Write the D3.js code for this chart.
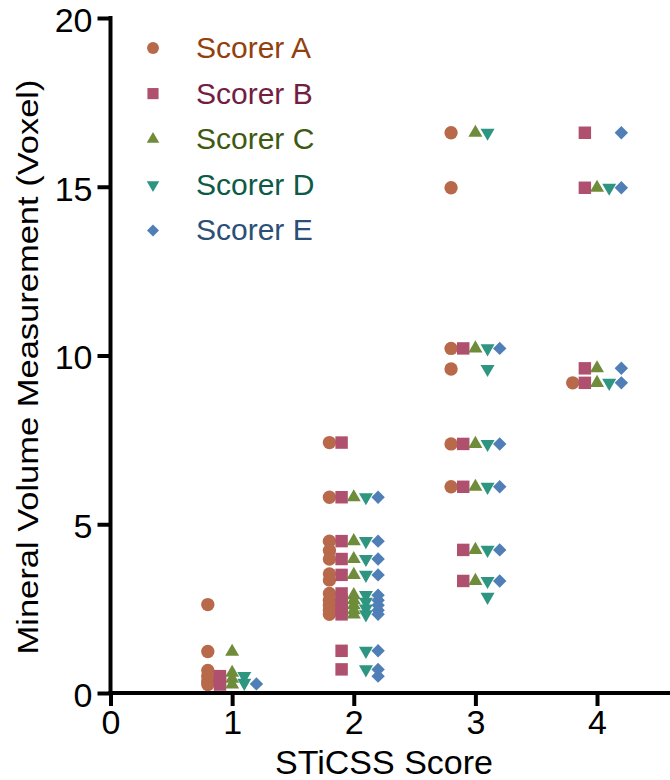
<!DOCTYPE html>
<html>
<head>
<meta charset="utf-8">
<script src="https://cdn.jsdelivr.net/npm/d3@7"></script>
<style>
  body { margin: 0; background: #fff; }
  svg text { font-family: "Liberation Sans", Arial, sans-serif; }
</style>
</head>
<body>
<svg id="chart" width="670" height="780"></svg>
<script>
// STiCSS score groups on the x axis
var scores = [1, 2, 3, 4];
var scorerNames = ["Scorer A", "Scorer B", "Scorer C", "Scorer D", "Scorer E"];

// values per scorer, one list per score (1..4)
var scorerA = [[2.62, 1.23, 0.67, 0.5, 0.35, 0.25],
               [7.42, 5.8, 4.5, 4.22, 3.97, 3.53, 3.35, 2.95, 2.75, 2.6, 2.45, 2.33],
               [16.6, 14.97, 10.21, 9.6, 7.38, 6.11],
               [9.19]];
var scorerB = [[0.5, 0.35, 0.25],
               [7.42, 5.8, 4.5, 3.97, 3.5, 2.95, 2.75, 2.6, 2.45, 2.33, 1.25, 0.7],
               [10.21, 7.38, 6.11, 4.24, 3.32],
               [16.6, 14.97, 9.62, 9.19]];
var scorerC = [[1.22, 0.6, 0.42, 0.25],
               [5.8, 4.5, 3.97, 3.5, 2.9, 2.75, 2.6, 2.45, 2.33],
               [16.6, 10.21, 7.38, 6.11, 4.24, 3.32],
               [14.97, 9.62, 9.19]];
var scorerD = [[0.5, 0.3],
               [5.8, 4.5, 3.97, 3.5, 2.9, 2.7, 2.5, 2.33, 1.25, 0.7],
               [16.6, 10.21, 9.6, 7.38, 6.11, 4.24, 3.32, 2.85],
               [14.97, 9.19]];
var scorerE = [[0.27],
               [5.8, 4.5, 3.97, 3.5, 2.9, 2.75, 2.6, 2.45, 2.33, 1.25, 0.7, 0.5],
               [10.21, 7.38, 6.11, 4.24, 3.32],
               [16.6, 14.97, 9.62, 9.19]];

var yTicks = [0, 5, 10, 15, 20];
var xTicks = [0, 1, 2, 3, 4];

var allScorers = [scorerA, scorerB, scorerC, scorerD, scorerE];
var markColors = ["#b8694a", "#b0506f", "#6f8c3a", "#2e9580", "#4f7fb6"];
var textColors = ["#93400f", "#731d43", "#3e5a12", "#0d5a48", "#2c4f78"];
var dodge = [-0.2, -0.1, 0, 0.1, 0.2];

var svg = d3.select("#chart");
var x = d3.scaleLinear().domain([0, 4.6]).range([110.5, 670]);
var y = d3.scaleLinear().domain([0, 20]).range([693, 18]);

// axes
var gx = svg.append("g").attr("transform", "translate(0," + y(0) + ")")
    .call(d3.axisBottom(x).tickValues(xTicks).tickSize(13).tickPadding(4).tickFormat(d3.format("d")));
var gy = svg.append("g").attr("transform", "translate(" + x(0) + ",0)")
    .call(d3.axisLeft(y).tickValues(yTicks).tickSize(13).tickPadding(5).tickFormat(d3.format("d")));

[gx, gy].forEach(function(g){
    g.select(".domain").attr("stroke", "#000").attr("stroke-width", 4);
    g.selectAll(".tick line").attr("stroke", "#000").attr("stroke-width", 4);
    g.selectAll(".tick text").attr("fill", "#000").attr("font-size", "34px")
        .attr("font-family", "Liberation Sans, Arial, sans-serif");
});
gy.selectAll(".tick text").attr("dy", "0.39em");
gx.select(".domain").attr("d", "M" + (x(0) - 2) + ",0H670");
gy.select(".domain").attr("d", "M0," + (y(20) - 2) + "V" + (y(0) + 2));

// axis titles
svg.append("text")
    .attr("x", 384).attr("y", 774)
    .attr("text-anchor", "middle")
    .attr("font-size", "34px")
    .text("STiCSS Score");

svg.append("text")
    .attr("transform", "translate(38,367) rotate(-90)")
    .attr("text-anchor", "middle")
    .attr("font-size", "30px")
    .attr("textLength", 575)
    .attr("lengthAdjust", "spacingAndGlyphs")
    .text("Mineral Volume Measurement (Voxel)");

// marker shapes
var shapes = [
    {type: d3.symbolCircle, size: 140, rot: 0},
    {type: d3.symbolSquare, size: 155, rot: 0},
    {type: d3.symbolTriangle, size: 85, rot: 0},
    {type: d3.symbolTriangle, size: 85, rot: 180},
    {type: d3.symbolSquare, size: 90, rot: 45}
];

allScorers.forEach(function(series, si){
    var pts = [];
    series.forEach(function(vals, gi){
        vals.forEach(function(v){ pts.push([scores[gi] + dodge[si], v]); });
    });
    var sym = d3.symbol().type(shapes[si].type).size(shapes[si].size);
    svg.append("g").selectAll("path")
        .data(pts)
        .enter().append("path")
        .attr("d", sym)
        .attr("transform", function(d){
            return "translate(" + x(d[0]) + "," + y(d[1]) + ") rotate(" + shapes[si].rot + ")";
        })
        .attr("fill", markColors[si]);
});

// legend
var legend = svg.append("g");
scorerNames.forEach(function(name, i){
    var ly = 48 + i * 45.6;
    var sym = d3.symbol().type(shapes[i].type).size(shapes[i].size * 0.8);
    legend.append("path")
        .attr("d", sym)
        .attr("transform", "translate(153," + ly + ") rotate(" + shapes[i].rot + ")")
        .attr("fill", markColors[i]);
    legend.append("text")
        .attr("x", 196).attr("y", ly + 10)
        .attr("font-size", "30px")
        .attr("fill", textColors[i])
        .text(name);
});
</script>
</body>
</html>
